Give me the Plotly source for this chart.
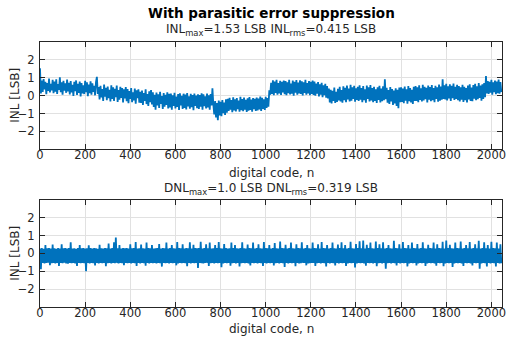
import numpy as np
import plotly.graph_objects as go
from plotly.subplots import make_subplots

# Code axis: every 4th output code of an 11-bit converter
code_step = 4
n_codes = 2048

# Integral nonlinearity [LSB], sampled every 4 codes
inl_lsb = [
    1.53, 0.12, 0.84, 0.21, 0.93, 0.35, 0.78, 0.08, 0.71, 0.26, 0.95, 0.18, 0.66, 0.30, 0.88, 0.14,
    0.79, 0.22, 0.91, 0.10, 0.64, 0.33, 1.02, 0.19, 0.75, 0.05, 0.83, 0.28, 0.69, 0.16, 0.90, 0.24,
    0.72, 0.07, 0.81, 0.18, 0.60, -0.02, 0.77, 0.25, 0.85, 0.04, 0.66, 0.15, 0.79, -0.05, 0.70, 0.12,
    0.58, 0.09, 0.83, 0.20, 0.74, -0.03, 0.62, 0.14, 0.80, 0.06, 0.69, 0.21, 0.55, 0.02, 0.76, 1.05,
    0.10, 0.48, -0.21, 0.55, -0.10, 0.37, -0.30, 0.62, -0.05, 0.44, -0.26, 0.51, -0.14, 0.33, -0.33, 0.58,
    -0.18, 0.46, -0.29, 0.38, -0.08, 0.57, -0.35, 0.31, -0.22, 0.50, -0.12, 0.42, -0.38, 0.35, -0.16, 0.48,
    -0.31, 0.37, -0.42, 0.25, -0.18, 0.43, -0.36, 0.19, -0.27, 0.40, -0.45, 0.30, -0.14, 0.35, -0.39, 0.22,
    -0.41, 0.28, -0.52, 0.14, -0.30, 0.35, -0.47, 0.09, -0.58, 0.24, -0.36, 0.31, -0.49, 0.18, -0.63, 0.05,
    -0.78, 0.17, -0.55, 0.08, -0.69, 0.21, -0.46, -0.02, -0.74, 0.14, -0.61, 0.05, -0.52, 0.19, -0.72, 0.10,
    -0.66, 0.12, -0.79, 0.02, -0.58, 0.16, -0.71, -0.05, -0.63, 0.09, -0.80, 0.13, -0.54, -0.01, -0.75, 0.11,
    -0.69, 0.06, -0.77, 0.15, -0.60, -0.03, -0.73, 0.10, -0.65, 0.04, -0.81, 0.12, -0.57, 0.01, -0.70, 0.08,
    -0.74, 0.03, -0.62, 0.13, -0.78, 0.07, -0.59, -0.04, -0.72, 0.11, -0.66, 0.02, -0.79, 0.09, -0.55, 0.41,
    -0.48, -1.05, -0.30, -1.22, -0.41, -1.37, -0.27, -1.10, -0.35, -1.15, -0.24, -0.98, -0.38, -1.08, -0.20, -0.95,
    -0.17, -0.86, -0.12, -0.79, -0.25, -0.92, -0.09, -0.83, -0.20, -0.88, -0.14, -0.76, -0.28, -0.90, -0.06, -0.81,
    -0.19, -0.87, -0.11, -0.78, -0.23, -0.91, -0.15, -0.84, -0.08, -0.80, -0.22, -0.89, -0.13, -0.75, -0.18, -0.86,
    -0.10, -0.82, -0.16, -0.77, -0.05, -0.85, -0.12, -0.74, -0.20, -0.80, -0.07, -0.69, -0.14, -0.62, 0.30, 0.05,
    0.72, 0.10, 0.86, 0.02, 0.79, 0.15, 0.88, 0.06, 0.70, 0.12, 0.83, 0.04, 0.77, 0.18, 0.85, 0.08,
    0.81, 0.03, 0.74, 0.14, 0.89, 0.07, 0.68, 0.11, 0.84, 0.00, 0.78, 0.16, 0.87, 0.05, 0.73, 0.13,
    0.86, 0.09, 0.80, 0.01, 0.75, 0.15, 0.88, 0.06, 0.71, 0.12, 0.82, 0.03, 0.77, 0.10, 0.85, 0.04,
    0.79, 0.00, 0.68, 0.11, 0.76, -0.04, 0.63, 0.05, 0.72, -0.08, 0.58, 0.02, 0.66, -0.12, 0.54, -0.15,
    0.40, -0.38, 0.33, -0.43, 0.27, -0.30, 0.45, -0.41, 0.22, -0.35, 0.38, -0.27, 0.49, -0.33, 0.31, -0.39,
    0.52, -0.26, 0.44, -0.36, 0.57, -0.21, 0.39, -0.32, 0.60, -0.28, 0.47, -0.19, 0.55, -0.34, 0.41, -0.24,
    0.49, -0.30, 0.58, -0.22, 0.43, -0.37, 0.53, -0.25, 0.36, -0.40, 0.56, -0.18, 0.46, -0.33, 0.59, -0.27,
    0.42, -0.36, 0.50, -0.29, 0.35, -0.41, 0.47, -0.24, 0.55, -0.38, 0.39, -0.31, 0.52, -0.26, 0.92, -0.20,
    0.44, -0.39, 0.31, -0.46, 0.48, -0.33, 0.37, -0.52, 0.29, -0.44, 0.41, -0.58, 0.33, -0.70, 0.45, -0.37,
    0.47, -0.35, 0.40, -0.42, 0.51, -0.28, 0.36, -0.45, 0.54, -0.31, 0.43, -0.38, 0.33, -0.47, 0.49, -0.30,
    0.53, -0.29, 0.46, -0.36, 0.58, -0.24, 0.41, -0.33, 0.61, -0.27, 0.50, -0.20, 0.44, -0.38, 0.56, -0.22,
    0.48, -0.31, 0.59, -0.25, 0.42, -0.37, 0.55, -0.19, 0.47, -0.34, 0.62, -0.28, 0.51, -0.23, 0.92, -0.18,
    0.58, -0.21, 0.66, -0.27, 0.52, -0.16, 0.63, -0.30, 0.55, -0.14, 0.68, -0.24, 0.49, -0.19, 0.60, -0.26,
    0.54, -0.33, 0.47, -0.22, 0.61, -0.35, 0.50, -0.26, 0.43, -0.38, 0.57, -0.21, 0.64, -0.29, 0.45, -0.31,
    0.59, -0.17, 0.66, -0.25, 0.52, -0.20, 0.70, -0.13, 0.56, -0.28, 0.63, -0.18, 0.71, -0.09, 1.10, 0.12,
    0.82, 0.10, 0.77, 0.16, 0.88, 0.05, 0.74, 0.19, 0.85, 0.08, 0.79, 0.14, 0.90, 0.11, 0.76, 0.20,
]

# Differential nonlinearity [LSB], sampled every 4 codes
dnl_lsb = [
    0.27, -0.88, 0.29, -0.53, 0.26, -0.56, 0.47, -0.54, 0.28, -0.52, 0.30, -0.66, 0.27, -0.55, 0.49, -0.53,
    0.28, -0.56, 0.26, -0.54, 0.29, -0.70, 0.27, -0.53, 0.51, -0.55, 0.28, -0.52, 0.30, -0.56, 0.27, -0.58,
    0.29, -0.54, 0.62, -0.55, 0.27, -0.53, 0.28, -0.56, 0.26, -0.71, 0.29, -0.54, 0.47, -0.55, 0.28, -0.53,
    0.30, -0.55, 0.27, -1.00, 0.28, -0.54, 0.45, -0.56, 0.29, -0.53, 0.27, -0.55, 0.30, -0.68, 0.28, -0.54,
    0.26, -0.56, 0.48, -0.53, 0.28, -0.55, 0.27, -0.54, 0.29, -0.72, 0.28, -0.55, 0.55, -0.53, 0.27, -0.56,
    0.29, -0.54, 0.62, -0.55, 0.88, -0.53, 0.28, -0.56, 0.46, -0.54, 0.27, -0.55, 0.29, -0.66, 0.28, -0.53,
    0.30, -0.55, 0.27, -0.54, 0.50, -0.56, 0.28, -0.53, 0.29, -0.55, 0.63, -0.70, 0.27, -0.54, 0.28, -0.56,
    0.49, -0.53, 0.28, -0.55, 0.27, -0.69, 0.60, -0.54, 0.29, -0.56, 0.28, -0.53, 0.47, -0.55, 0.27, -0.54,
    0.28, -0.56, 0.30, -0.53, 0.52, -0.55, 0.27, -0.74, 0.29, -0.54, 0.28, -0.55, 0.61, -0.53, 0.27, -0.56,
    0.29, -0.54, 0.46, -0.55, 0.28, -0.53, 0.27, -0.67, 0.63, -0.56, 0.29, -0.54, 0.28, -0.55, 0.50, -0.53,
    0.27, -0.55, 0.29, -0.72, 0.28, -0.54, 0.62, -0.56, 0.27, -0.53, 0.48, -0.55, 0.29, -0.54, 0.28, -0.81,
    0.30, -0.53, 0.64, -0.55, 0.27, -0.56, 0.29, -0.54, 0.51, -0.53, 0.28, -0.70, 0.60, -0.55, 0.27, -0.54,
    0.28, -0.56, 0.47, -0.53, 0.29, -0.55, 0.63, -0.54, 0.28, -0.78, 0.27, -0.56, 0.52, -0.53, 0.29, -0.55,
    0.27, -0.54, 0.28, -0.69, 0.61, -0.55, 0.29, -0.53, 0.46, -0.56, 0.28, -0.54, 0.27, -0.73, 0.30, -0.55,
    0.62, -0.53, 0.28, -0.55, 0.27, -0.54, 0.49, -0.56, 0.29, -0.67, 0.28, -0.53, 0.60, -0.55, 0.27, -0.54,
    0.29, -0.56, 0.51, -0.53, 0.28, -0.55, 0.27, -0.71, 0.63, -0.54, 0.29, -0.56, 0.28, -0.53, 0.47, -0.55,
    0.27, -0.54, 0.29, -0.68, 0.57, -0.55, 0.28, -0.53, 0.27, -0.56, 0.66, -0.54, 0.29, -0.55, 0.28, -0.76,
    0.48, -0.53, 0.27, -0.56, 0.29, -0.54, 0.61, -0.55, 0.28, -0.53, 0.27, -0.72, 0.50, -0.54, 0.29, -0.56,
    0.28, -0.55, 0.62, -0.53, 0.27, -0.54, 0.29, -0.67, 0.46, -0.56, 0.28, -0.55, 0.27, -0.53, 0.60, -0.54,
    0.29, -0.70, 0.28, -0.55, 0.51, -0.53, 0.27, -0.56, 0.63, -0.54, 0.29, -0.55, 0.28, -0.74, 0.47, -0.53,
    0.27, -0.56, 0.29, -0.54, 0.60, -0.55, 0.28, -0.68, 0.27, -0.53, 0.49, -0.56, 0.29, -0.54, 0.62, -0.55,
    0.28, -0.53, 0.46, -0.71, 0.27, -0.56, 0.29, -0.54, 0.64, -0.55, 0.28, -0.53, 0.27, -0.79, 0.52, -0.56,
    0.29, -0.54, 0.68, -0.55, 0.28, -0.53, 0.71, -0.56, 0.27, -0.69, 0.48, -0.54, 0.29, -0.55, 0.61, -0.53,
    0.28, -0.56, 0.27, -0.54, 0.66, -0.72, 0.29, -0.55, 0.50, -0.53, 0.28, -0.56, 0.62, -0.54, 0.27, -0.86,
    0.29, -0.55, 0.47, -0.53, 0.28, -0.56, 0.27, -0.54, 0.70, -0.55, 0.29, -0.67, 0.28, -0.53, 0.51, -0.56,
    0.27, -0.54, 0.63, -0.55, 0.29, -0.53, 0.28, -0.73, 0.46, -0.56, 0.27, -0.54, 0.60, -0.55, 0.29, -0.53,
    0.28, -0.68, 0.52, -0.56, 0.27, -0.54, 0.29, -0.55, 0.62, -0.53, 0.28, -0.71, 0.27, -0.56, 0.48, -0.54,
    0.29, -0.55, 0.28, -0.53, 0.61, -0.56, 0.27, -0.69, 0.50, -0.54, 0.29, -0.55, 0.28, -0.53, 0.64, -0.72,
    0.27, -0.56, 0.72, -0.54, 0.29, -0.55, 0.48, -0.53, 0.28, -0.76, 0.27, -0.56, 0.61, -0.54, 0.29, -0.55,
    0.28, -0.53, 0.66, -0.56, 0.27, -0.70, 0.29, -0.54, 0.47, -0.55, 0.28, -0.53, 0.63, -0.56, 0.27, -0.68,
    0.29, -0.54, 0.51, -0.55, 0.28, -0.53, 0.70, -0.86, 0.27, -0.56, 0.29, -0.54, 0.62, -0.55, 0.28, -0.73,
    0.46, -0.53, 0.27, -0.56, 0.64, -0.54, 0.29, -0.55, 0.28, -0.74, 0.60, -0.53, 0.27, -0.56, 0.50, -0.55,
]

x_ticks = [0, 200, 400, 600, 800, 1000, 1200, 1400, 1600, 1800, 2000]
y_ticks = [-2, -1, 0, 1, 2]

main_title = "<b>With parasitic error suppression</b>"
inl_subtitle = "INL<sub>max</sub>=1.53 LSB INL<sub>rms</sub>=0.415 LSB"
dnl_subtitle = "DNL<sub>max</sub>=1.0 LSB DNL<sub>rms</sub>=0.319 LSB"
x_label = "digital code, n"
y_label = "INL [LSB]"

codes = np.arange(len(inl_lsb)) * code_step

W, H = 510, 339
M_L, M_R, M_T, M_B = 40, 4, 42, 32
TXT = "#262626"
LINE = "#0072BD"
FONT = "DejaVu Sans"

fig = make_subplots(rows=2, cols=1, vertical_spacing=0.19)
fig.add_trace(go.Scatter(x=codes, y=inl_lsb, mode="lines",
                         line=dict(color=LINE, width=1.8), showlegend=False), row=1, col=1)
fig.add_trace(go.Scatter(x=codes, y=dnl_lsb, mode="lines",
                         line=dict(color=LINE, width=1.8), showlegend=False), row=2, col=1)

ax_common = dict(showline=True, linecolor=TXT, linewidth=1, mirror="ticks",
                 ticks="inside", ticklen=5, tickcolor=TXT, tickwidth=1,
                 showgrid=True, gridcolor="#e1e1e1", gridwidth=1, zeroline=False,
                 tickfont=dict(family=FONT, size=11.5, color=TXT))

ph = H - M_T - M_B
panel = 107.3 / ph
for xa, ya in [("xaxis", "yaxis"), ("xaxis2", "yaxis2")]:
    fig.layout[xa].update(range=[0, n_codes - 1], tickvals=x_ticks, ticklabelstandoff=-5, **ax_common)
    fig.layout[ya].update(range=[-3, 3], tickvals=y_ticks, ticklabelstandoff=2, **ax_common)
fig.layout.yaxis.domain = [1 - panel, 1]
fig.layout.yaxis2.domain = [0, panel]


def py(y):
    # pixel row (from top) to paper fraction
    return 1 - (y - M_T) / ph


def px(x):
    return (x - M_L) / (W - M_L - M_R)


ann = []
cx = px(273)
ann.append(dict(text=main_title, x=cx, y=py(13.5), font=dict(size=13.5, color="#000000")))
ann.append(dict(text=inl_subtitle, x=cx, y=py(30), font=dict(size=12, color=TXT)))
ann.append(dict(text=dnl_subtitle, x=cx, y=py(188.5), font=dict(size=12, color=TXT)))
ann.append(dict(text=x_label, x=cx, y=py(172.5), font=dict(size=12, color=TXT)))
ann.append(dict(text=x_label, x=cx, y=py(329), font=dict(size=12, color=TXT)))
ann.append(dict(text=y_label, x=px(14), y=py(95.5), textangle=-90, font=dict(size=12, color=TXT)))
ann.append(dict(text=y_label, x=px(14), y=py(253.5), textangle=-90, font=dict(size=12, color=TXT)))
for a in ann:
    a.update(xref="paper", yref="paper", showarrow=False, xanchor="center", yanchor="middle")
    a["font"]["family"] = FONT

fig.update_layout(width=W, height=H, margin=dict(l=M_L, r=M_R, t=M_T, b=M_B),
                  paper_bgcolor="white", plot_bgcolor="white",
                  annotations=ann, font=dict(family=FONT, color=TXT))

fig.write_html("out.html")
